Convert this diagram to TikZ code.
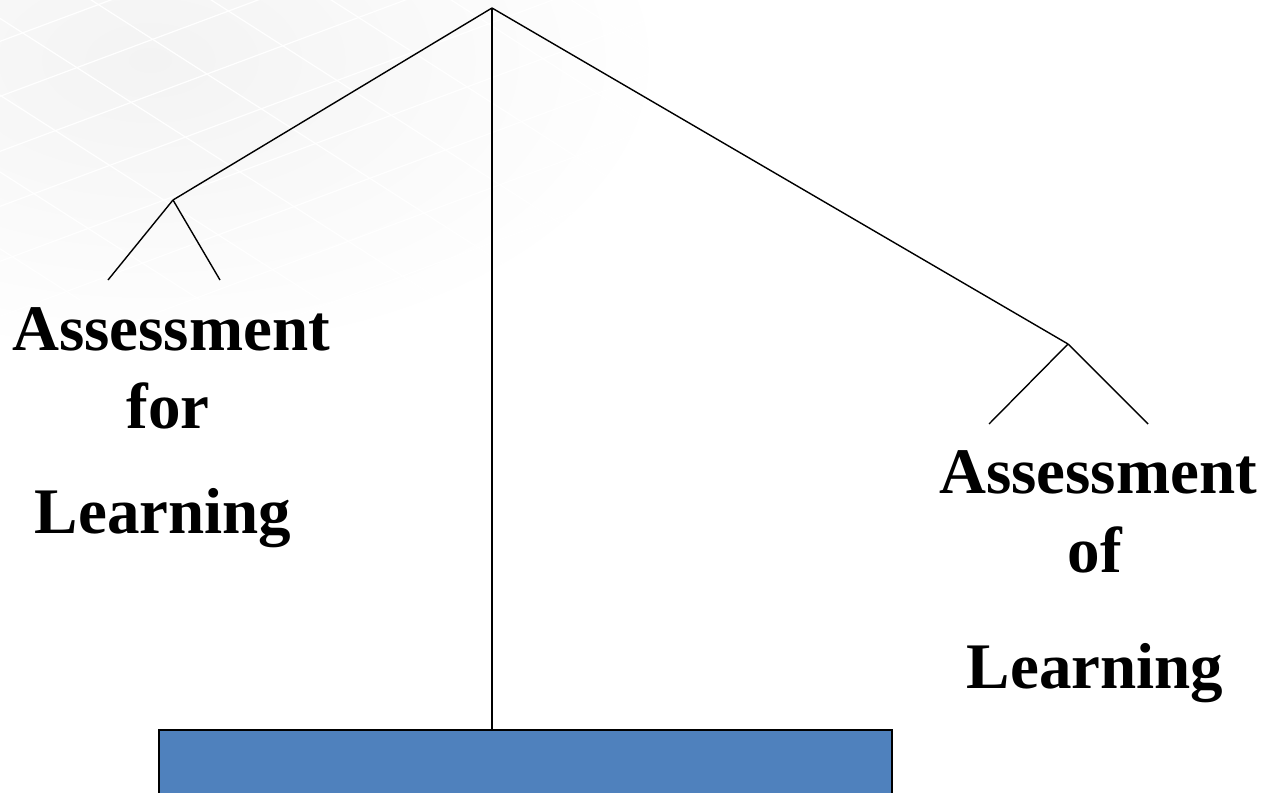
\documentclass[tikz,border=0pt]{standalone}
\usepackage{fontspec}
\setmainfont{Liberation Serif}
\definecolor{boxblue}{HTML}{4F81BD}
\definecolor{tilegray}{HTML}{F3F3F3}
\begin{document}
\begin{tikzpicture}[x=1pt,y=-1pt,
  branch/.style={line width=1.4pt, black},
  label/.style={anchor=base, inner sep=0pt, font=\bfseries\fontsize{65}{78}\selectfont},
  basebox/.style={draw=black, line width=1.6pt, fill=boxblue, anchor=north west,
    minimum width=733pt, minimum height=90pt, inner sep=0pt}]
\useasboundingbox (0,0) rectangle (1268,792);
% faint tiled backdrop in the upper left
\fill[white] (0,0) rectangle (1268,792);
\begin{scope}
  \clip (0,0) rectangle (1268,792);
  \shade[inner color=tilegray, outer color=white] (150,60) ellipse (520 and 300);
  \foreach \k in {-4,...,10}{
    \draw[white, line width=1.2pt] (-50,{60+55*\k}) -- (700,{-220+55*\k});
    \draw[white, line width=1.2pt] ({-300+120*\k},-20) -- ({200+120*\k},300);
  }
\end{scope}

% tree
\coordinate (top) at (492,8);
\coordinate (lfork) at (173,200);
\coordinate (rfork) at (1068,344);
\coordinate (la) at (108,280);
\coordinate (lb) at (220,280);
\coordinate (ra) at (989,424);
\coordinate (rb) at (1148,424);

\node[basebox] (base) at (158,729) {};

\draw[branch] (top) -- (lfork);
\draw[branch] (top) -- (rfork);
\draw[branch] (top) -- (top |- base.north);
\draw[branch] (lfork) -- (la);
\draw[branch] (lfork) -- (lb);
\draw[branch] (rfork) -- (ra);
\draw[branch] (rfork) -- (rb);

% labels
\node[label] (l1) at (171,350) {Assessment};
\node[label] (l2) at (168,428) {for};
\node[label] (l3) at (163,533) {Learning};
\node[label] (r1) at (1098,493) {Assessment};
\node[label] (r2) at (1095,572) {of};
\node[label] (r3) at (1095,688) {Learning};
\end{tikzpicture}
\end{document}
